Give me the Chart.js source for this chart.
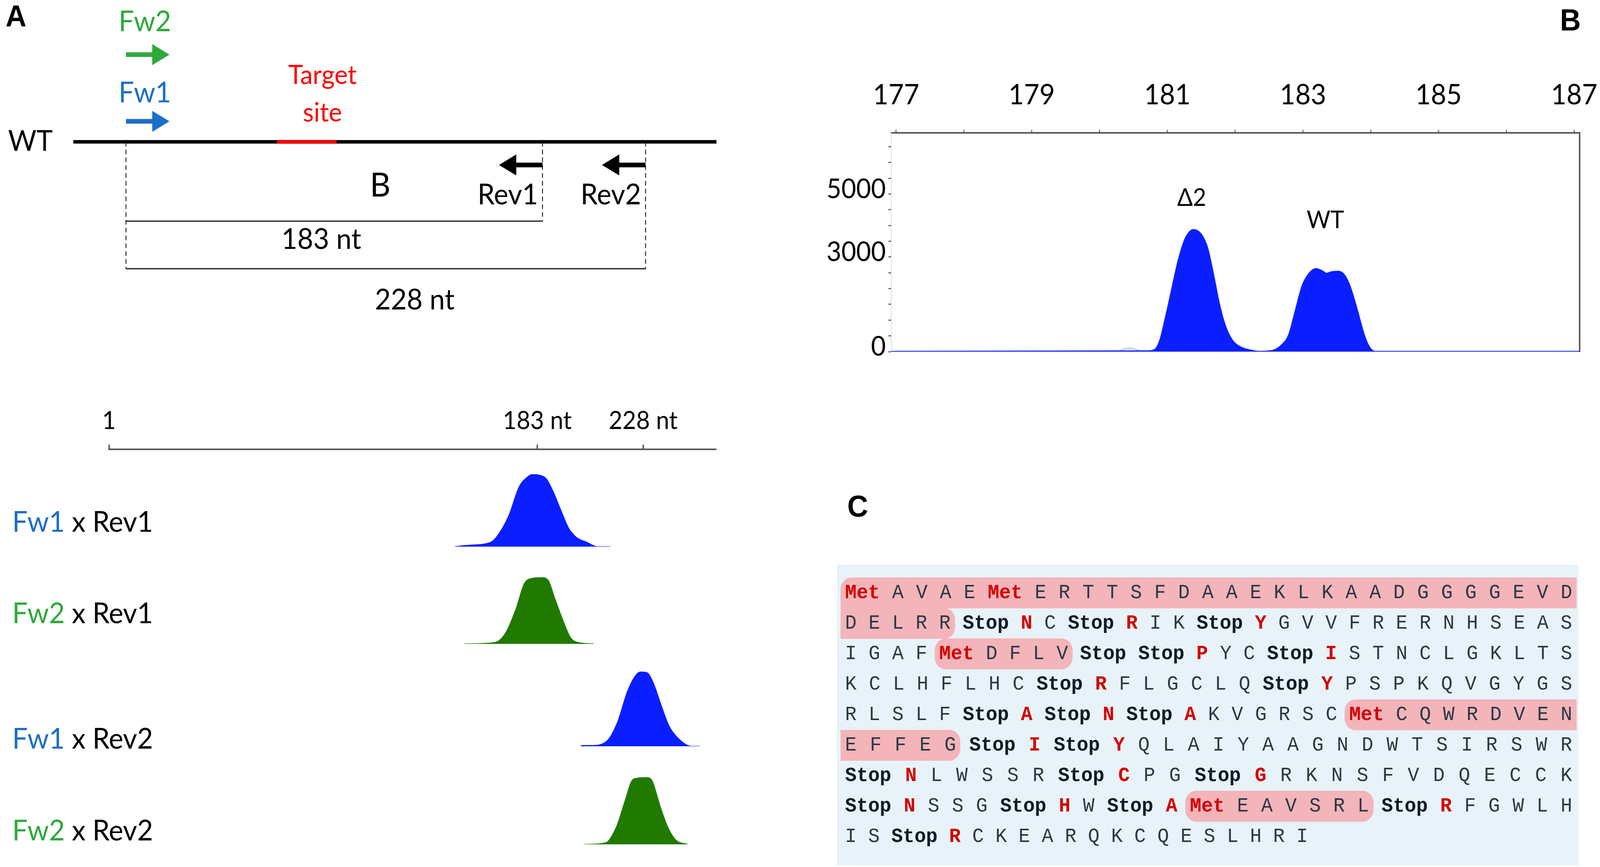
<!DOCTYPE html>
<html>
<head>
<meta charset="utf-8">
<title>Fragment analysis of the target site</title>
<script src="https://cdn.jsdelivr.net/npm/chart.js@4.4.1/dist/chart.umd.min.js"></script>
<style>
  html, body { margin:0; padding:0; background:#ffffff; overflow:hidden; }
  #stage { position:absolute; left:0; top:0; width:4317px; height:2219px; overflow:hidden; transform-origin:0 0; font-family:'Lato', sans-serif; background:#fff; }
  canvas { position:absolute; }
  .t { position:absolute; white-space:nowrap; line-height:1; color:#000; font-family:'Lato', sans-serif; }
  .panel { font-family:'Liberation Sans', Arial, sans-serif; font-weight:700; font-size:78px; }
  #seqbox { position:absolute; left:2258px; top:1445px; width:2001px; height:770px; background:#E7F3F8; overflow:hidden; }
  #seq { position:absolute; left:22px; top:34px; width:1962px; font-family:'Liberation Mono','Courier New',monospace; font-size:52px; }
  .row { height:78px; line-height:78px; text-align:justify; text-align-last:justify; white-space:normal; }
  .row.last { text-align-last:left; }
  .aa { color:#2a3944; }
  .stop { font-weight:700; color:#0e1c26; }
  .red { font-weight:700; color:#D40000; }
  .hl { background:#F3B4BA; padding:10px 12px; margin:0 -12px; }
  .rs { border-top-left-radius:30px; border-bottom-left-radius:30px; }
  .rtl { border-top-left-radius:30px; }
  .re { border-top-right-radius:30px; border-bottom-right-radius:30px; }
</style>
</head>
<body>
<div id="stage">
  <canvas id="cSchem" style="left:0px;top:0px"></canvas>
  <canvas id="cLadder" style="left:0px;top:1000px"></canvas>
  <canvas id="cB" style="left:2150px;top:150px"></canvas>
  <div id="seqbox"><div id="seq"></div></div>
  <div class="t panel" style="left:15px;top:2px">A</div>
  <div class="t panel" style="left:4209px;top:12px">B</div>
  <div class="t panel" style="left:2286px;top:1256px">C</div>
  <div id="layer"></div>
</div>

<script>
// ===================== DATA =====================
// Panel A – schematic (positions in nucleotides)
const wtSpan = [-22, 259];
const targetSite = [67, 93];
const primerNames = ['Fw2', 'Fw1', 'Rev1', 'Rev2'];
const primerStart = [1, 1, 183, 228];
const primerDir = [1, 1, -1, -1];
const ampliconLengths = [183, 228];
const ampliconLabels = ['183 nt', '228 nt'];

// Panel A – capillary electrophoresis of the four primer pairs
const ladderTicks = [1, 183, 228];
const ladderTickLabels = ['1', '183 nt', '228 nt'];
const pairFw = ['Fw1', 'Fw2', 'Fw1', 'Fw2'];
const pairRev = ['Rev1', 'Rev1', 'Rev2', 'Rev2'];
const row1X = [148, 154, 163.2, 166.5, 170.9, 175.3, 178.6, 180.8, 184.2, 186.9, 189.7, 193, 196.3, 199.6, 204.1, 208.5, 214];
const row1Y = [0, 2, 6, 17, 43, 83, 96, 100, 99, 94, 77, 51, 26, 13, 6, 0, 0];
const row2X = [152, 165, 169.5, 174, 177.4, 180.7, 185, 187.7, 190.5, 193.8, 197.1, 200.4, 207];
const row2Y = [0, 2, 15, 49, 83, 91, 92, 88, 63, 34, 9, 2, 0];
const row3X = [201.5, 206, 212.6, 217, 221.4, 224.7, 226.9, 229.7, 232.4, 235.7, 239, 243.4, 248.5, 252];
const row3Y = [1, 1, 7, 31, 73, 93, 98, 97, 83, 54, 27, 9, 0, 0];
const row4X = [203, 212, 216.5, 220.4, 223.1, 225.3, 229.7, 231.9, 235.2, 238.6, 241.9, 246.9];
const row4Y = [0, 2, 23, 61, 87, 91, 92, 87, 53, 23, 6, 0];

// Panel B – fragment sizes (nt) vs. fluorescence (RFU)
const bTicks = [177, 178, 179, 180, 181, 182, 183, 184, 185, 186, 187];
const bTickLabels = [177, 179, 181, 183, 185, 187];
const bYTicks = [0, 500, 1000, 1500, 2000, 2500, 3000, 3500, 4000, 4500, 5000, 5500, 6000, 6500];
const bYTickLabels = [0, 3000, 5000];
const bSizes = [176.93, 180.72, 180.82, 180.89, 180.97, 181.06, 181.16, 181.26, 181.34, 181.39, 181.45, 181.52, 181.59, 181.68, 181.76, 181.86, 181.96, 182.09, 182.22, 182.36, 182.56, 182.69, 182.79, 182.89, 182.99, 183.09, 183.19, 183.28, 183.35, 183.41, 183.52, 183.61, 183.69, 183.79, 183.89, 183.97, 184.06, 187.08];
const bRFU = [0, 17, 70, 350, 1040, 1910, 2870, 3560, 3820, 3865, 3820, 3650, 3300, 2430, 1560, 780, 350, 130, 45, 0, 35, 215, 520, 1300, 2085, 2475, 2625, 2560, 2475, 2520, 2540, 2430, 2085, 1390, 610, 175, 0, 0];
const bFaintSizes = [180.25, 180.35, 180.45, 180.55, 180.65];
const bFaintRFU = [0, 70, 110, 60, 0];
const bPeakNames = ['\u03942', 'WT'];
const bPeakSizes = [181.36, 183.33];
const bPeakLabelRFU = [4920, 4210];

// Panel C – translated sequence ( [ / < / { open a highlight, ] / } close it, * = red residue )
const seqRows = [
  '< *Met A V A E *Met E R T T S F D A A E K L K A A D G G G G E V D }',
  '{ D E L R R ] Stop *N C Stop *R I K Stop *Y G V V F R E R N H S E A S',
  'I G A F [ *Met D F L V ] Stop Stop *P Y C Stop *I S T N C L G K L T S',
  'K C L H F L H C Stop *R F L G C L Q Stop *Y P S P K Q V G Y G S',
  'R L S L F Stop *A Stop *N Stop *A K V G R S C [ *Met C Q W R D V E N }',
  '{ E F F E G ] Stop *I Stop *Y Q L A I Y A A G N D W T S I R S W R',
  'Stop *N L W S S R Stop *C P G Stop *G R K N S F V D Q E C C K',
  'Stop *N S S G Stop *H W Stop *A [ *Met E A V S R L ] Stop *R F G W L H',
  'I S Stop *R C K E A R Q K C Q E S L H R I'
];

// ===================== STAGE FIT =====================
const W = 4317, H = 2219;
const kx = (window.innerWidth || W) / W;
const ky = (window.innerHeight || H) / H;
const stage = document.getElementById('stage');
stage.style.transform = 'scale(' + kx + ',' + ky + ')';
document.body.style.width = (W * kx) + 'px';
document.body.style.height = (H * ky) + 'px';
const PR = Math.max(1, Math.max(kx, ky) * (window.devicePixelRatio || 1));

// ===================== STYLE / LAYOUT =====================
const BLUE_TRACE = '#0A1EFF';
const GREEN_TRACE = '#217A00';
const FW1_COLOR = '#1C6FC8';
const FW2_COLOR = '#2EAA3A';
const TARGET_RED = '#FF0000';
const lane = { fw2: 118, fw1: 303, wt: 360, rev: 424 };
const ampLane = [580, 712];
const SHAFT_NT = 14;
Chart.defaults.font.family = 'Lato';
const layer = document.getElementById('layer');

function sizeCanvas(id, w, h) { const c = document.getElementById(id); c.style.width = w + 'px'; c.style.height = h + 'px'; c.width = w; c.height = h; return c; }

function addText(txt, left, top, size, color, extra) {
  const d = document.createElement('div');
  d.className = 't';
  d.style.left = left + 'px';
  d.style.top = top + 'px';
  d.style.fontSize = size + 'px';
  if (color) d.style.color = color;
  if (extra) Object.assign(d.style, extra);
  d.innerHTML = txt;
  layer.appendChild(d);
  return d;
}
const baseOpts = { responsive: false, maintainAspectRatio: false, animation: false, events: [], devicePixelRatio: PR };

// ===================== PANEL A: schematic =====================
function seg(x0, x1, y0, y1, color, width, dash, order) {
  return { data: [{x: x0, y: y0}, {x: x1, y: y1}], borderColor: color, borderWidth: width,
           borderDash: dash || [], pointRadius: 0, fill: false, tension: 0, borderCapStyle: 'butt', order: order || 0 };
}
const schemSets = [];
schemSets.push(seg(wtSpan[0], wtSpan[1], lane.wt, lane.wt, '#000', 9, null, 10));
schemSets.push(seg(targetSite[0], targetSite[1], lane.wt, lane.wt, TARGET_RED, 9, null, 0));
schemSets.push(seg(primerStart[0], primerStart[0], lane.wt, ampLane[ampLane.length - 1], '#222', 2.5, [12, 8], 5));
ampliconLengths.forEach((L, i) => {
  schemSets.push(seg(L, L, lane.wt, ampLane[i], '#222', 2.5, [12, 8], 5));
  schemSets.push(seg(primerStart[0], L, ampLane[i], ampLane[i], '#333', 3.5, null, 5));
});
const primerLane = [lane.fw2, lane.fw1, lane.rev, lane.rev];
const primerColor = [FW2_COLOR, FW1_COLOR, '#000', '#000'];
primerNames.forEach((n, i) => {
  const x0 = primerStart[i], x1 = x0 + primerDir[i] * SHAFT_NT;
  schemSets.push(seg(x0, x1, primerLane[i], primerLane[i], primerColor[i], 12, null, 1));
  schemSets.push({ data: [{x: x1, y: primerLane[i]}], showLine: false, pointStyle: 'triangle',
                   pointRadius: 31, pointRotation: primerDir[i] > 0 ? 90 : -90, order: 1,
                   pointBackgroundColor: primerColor[i], pointBorderWidth: 0, borderColor: primerColor[i] });
});
sizeCanvas('cSchem', 2100, 800);
const schem = new Chart(document.getElementById('cSchem'), {
  type: 'line',
  data: { datasets: schemSets },
  options: Object.assign({}, baseOpts, {
    layout: { padding: 0 },
    plugins: { legend: { display: false }, tooltip: { enabled: false } },
    scales: {
      x: { type: 'linear', display: false, min: -49, max: 281 },
      y: { type: 'linear', display: false, min: 0, max: 800, reverse: true }
    }
  })
});
const sx = schem.scales.x;
addText('WT', 22, 321, 74, '#000');
addText('Fw2', 320, 15, 74, FW2_COLOR);
addText('Fw1', 320, 197, 74, FW1_COLOR);
addText('Target<br>site', 670, 141, 68, TARGET_RED, { lineHeight: '96px', textAlign: 'center', width: '400px' });
addText('B', 998, 427, 86, '#000');
[2, 3].forEach(i => {
  const px = sx.getPixelForValue(primerStart[i]);
  addText(primerNames[i], 0, 458, 74, '#000', { left: 'auto', right: (W - (px - 12)) + 'px' });
});
addText(ampliconLabels[0], 867, 572, 74, '#000', { transform: 'translateX(-50%)' });
addText(ampliconLabels[1], 1119, 727, 74, '#000', { transform: 'translateX(-50%)' });

// ===================== PANEL A: electropherograms =====================
const rowsData = [[row1X, row1Y], [row2X, row2Y], [row3X, row3Y], [row4X, row4Y]];
const rowColors = [BLUE_TRACE, GREEN_TRACE, BLUE_TRACE, GREEN_TRACE];
const rowWeights = [249, 249, 262, 251];
const ladderScales = {
  x: {
    type: 'linear', position: 'top', min: 1, max: 259,
    afterBuildTicks: s => { s.ticks = ladderTicks.map(v => ({ value: v })); },
    afterFit: s => { s.height = 150; },
    ticks: { autoSkip: false, maxRotation: 0, padding: 22, color: '#000', font: { family: 'Lato', size: 64 },
             callback: v => { const j = ladderTicks.indexOf(v); return j >= 0 ? ladderTickLabels[j] : ''; } },
    grid: { drawOnChartArea: false, tickLength: 12, tickColor: '#333', tickWidth: 3 },
    border: { color: '#555', width: 4 }
  }
};
rowWeights.forEach((w, i) => {
  ladderScales['r' + (i + 1)] = {
    type: 'linear', position: 'left', display: true, min: 0, max: 135,
    stack: 'rows', stackWeight: w, weight: 4 - i, offset: false,
    afterFit: s => { s.width = 0; },
    ticks: { display: false }, grid: { display: false, drawTicks: false }, border: { display: false }
  };
});
sizeCanvas('cLadder', 2050, 1200);
new Chart(document.getElementById('cLadder'), {
  type: 'line',
  data: { datasets: rowsData.map((r, i) => ({
    data: r[0].map((x, j) => ({ x: x, y: r[1][j] })), yAxisID: 'r' + (i + 1),
    borderColor: rowColors[i], backgroundColor: rowColors[i], fill: 'origin', borderWidth: 2,
    pointRadius: 0, cubicInterpolationMode: 'monotone'
  })) },
  options: Object.assign({}, baseOpts, {
    layout: { padding: { left: 294, right: 118, top: 0, bottom: 39 } },
    plugins: { legend: { display: false }, tooltip: { enabled: false } },
    scales: ladderScales
  })
});
const rowLabelTops = [1296, 1530, 1851, 2086];
pairFw.forEach((fw, i) => {
  const c = fw === 'Fw1' ? FW1_COLOR : FW2_COLOR;
  addText('<span style="color:' + c + '">' + fw + '</span> x ' + pairRev[i], 33, rowLabelTops[i], 74, '#000');
});

// ===================== PANEL B =====================
const B_LEFT = 2150, B_TOP = 150;
sizeCanvas('cB', 2167, 800);
const chartB = new Chart(document.getElementById('cB'), {
  type: 'line',
  data: { datasets: [
    { data: bSizes.map((x, i) => ({ x: x, y: bRFU[i] })), borderColor: BLUE_TRACE, backgroundColor: BLUE_TRACE,
      fill: 'origin', borderWidth: 4, pointRadius: 0, cubicInterpolationMode: 'monotone' },
    { data: bFaintSizes.map((x, i) => ({ x: x, y: bFaintRFU[i] })), borderColor: 'rgba(120,135,255,0.55)',
      fill: false, borderWidth: 3, pointRadius: 0, cubicInterpolationMode: 'monotone' }
  ] },
  options: Object.assign({}, baseOpts, {
    layout: { padding: { left: 0, right: 0, top: 0, bottom: 50 } },
    plugins: { legend: { display: false }, tooltip: { enabled: false } },
    scales: {
      x: {
        type: 'linear', position: 'top', min: 176.93, max: 187.08,
        afterBuildTicks: s => { s.ticks = bTicks.map(v => ({ value: v })); },
        afterFit: s => { s.height = 190; s.paddingLeft = 0; s.paddingRight = 0; },
        ticks: { autoSkip: false, maxRotation: 0, padding: 45, color: '#000', font: { family: 'Lato', size: 72 },
                 callback: v => bTickLabels.includes(v) ? String(v) : '' },
        grid: { drawOnChartArea: false, tickLength: 8, tickColor: '#777', tickWidth: 3 },
        border: { color: '#555', width: 4 }
      },
      y: {
        type: 'linear', position: 'left', min: 0, max: 6940,
        afterBuildTicks: s => { s.ticks = bYTicks.map(v => ({ value: v })); },
        afterFit: s => { s.width = 255; s.paddingTop = 0; s.paddingBottom = 0; },
        ticks: { autoSkip: false, padding: 7, labelOffset: -12, color: '#000', font: { family: 'Lato', size: 69 },
                 callback: v => bYTickLabels.includes(v) ? String(v) : '' },
        grid: { drawOnChartArea: false, tickLength: 8, tickColor: '#666', tickWidth: 3 },
        border: { color: '#dcdcdc', width: 2 }
      },
      yR: {
        type: 'linear', position: 'right', display: true,
        afterFit: s => { s.width = 55; },
        ticks: { display: false }, grid: { display: false },
        border: { color: '#555', width: 4 }
      }
    }
  })
});
bPeakNames.forEach((n, i) => {
  addText(n, B_LEFT + chartB.scales.x.getPixelForValue(bPeakSizes[i]),
          B_TOP + chartB.scales.y.getPixelForValue(bPeakLabelRFU[i]), 62, '#000',
          { transform: 'translate(-50%,-50%)' });
});

// ===================== PANEL C =====================
function renderRow(str) {
  const items = str.split(' ');
  let html = '', needSpace = false;
  for (let q = 0; q < items.length; q++) {
    const t = items[q];
    if (t === '[' || t === '{' || t === '<') {
      let cls = 'hl' + (t === '[' ? ' rs' : (t === '<' ? ' rtl' : ''));
      for (let m = q + 1; m < items.length; m++) {
        if (items[m] === ']') { cls += ' re'; break; }
        if (items[m] === '}') break;
      }
      if (needSpace) html += ' ';
      needSpace = false;
      html += '<span class="' + cls + '">';
    } else if (t === ']' || t === '}') {
      html += '</span>';
    } else {
      if (needSpace) html += ' ';
      let cls = 'aa', txt = t;
      if (t.charAt(0) === '*') { cls = 'red'; txt = t.slice(1); }
      else if (t === 'Stop') { cls = 'stop'; }
      html += '<span class="' + cls + '">' + txt + '</span>';
      needSpace = true;
    }
  }
  return html;
}
const seqEl = document.getElementById('seq');
seqRows.forEach((r, i) => {
  const d = document.createElement('div');
  d.className = 'row' + (i === seqRows.length - 1 ? ' last' : '');
  d.innerHTML = renderRow(r);
  seqEl.appendChild(d);
});
</script>
</body>
</html>
